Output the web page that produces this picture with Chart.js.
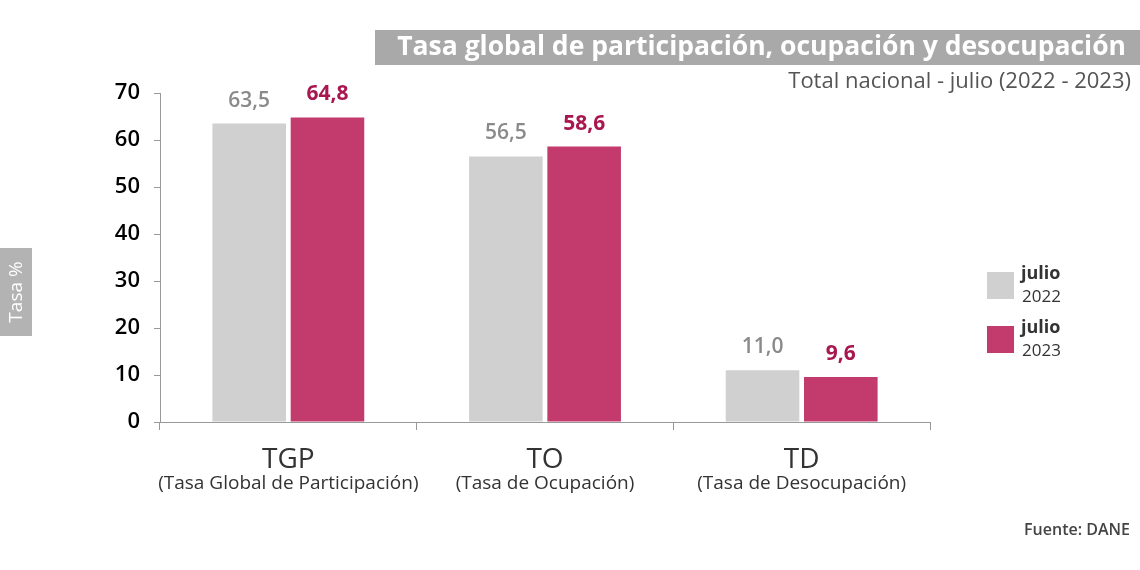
<!DOCTYPE html>
<html>
<head>
<meta charset="utf-8">
<script src="https://cdn.jsdelivr.net/npm/chart.js@4.4.0/dist/chart.umd.min.js"></script>
<style>
  body { margin: 0; background: #fff; }
  canvas { display: block; }
</style>
</head>
<body>
<canvas id="chart" width="1140" height="570"></canvas>
<script>
const categories = ['TGP', 'TO', 'TD'];
const categoryNotes = ['(Tasa Global de Participación)', '(Tasa de Ocupación)', '(Tasa de Desocupación)'];
const seriesNames = ['julio', 'julio'];
const seriesYears = ['2022', '2023'];
const values2022 = [63.5, 56.5, 11.0];
const values2023 = [64.8, 58.6, 9.6];

const FONT = '"Open Sans", "DejaVu Sans", sans-serif';
const GRAY = '#d0d0d0';
const MAGENTA = '#c23b6c';

const fmt = v => v.toFixed(1).replace('.', ',');

// banner title, subtitle, y title box, source
const decorPlugin = {
  id: 'decor',
  beforeDraw(chart) {
    const c = chart.ctx;
    c.save();
    c.fillStyle = '#a9a9a9';
    c.fillRect(375, 30, 765, 35);
    c.fillStyle = '#fff';
    c.font = 'bold 26.5px ' + FONT;
    c.textAlign = 'right';
    c.textBaseline = 'middle';
    c.fillText('Tasa global de participación, ocupación y desocupación', 1126, 47);
    c.fillStyle = '#555';
    c.font = '22px ' + FONT;
    c.fillText('Total nacional - julio (2022 - 2023)', 1131, 82);
    c.fillStyle = '#444';
    c.font = '600 16px ' + FONT;
    c.fillText('Fuente: DANE', 1130, 530);

    c.fillStyle = '#b3b3b3';
    c.fillRect(0, 248, 32, 88);
    c.translate(17, 292);
    c.rotate(-Math.PI / 2);
    c.textAlign = 'center';
    c.fillStyle = '#fff';
    c.font = '19px ' + FONT;
    c.fillText('Tasa %', 0, 0);
    c.restore();
  },
  afterDatasetsDraw(chart) {
    const c = chart.ctx;
    const x = chart.scales.x;
    c.save();
    c.textAlign = 'center';
    c.textBaseline = 'middle';
    // data labels
    chart.data.datasets.forEach((ds, i) => {
      const meta = chart.getDatasetMeta(i);
      meta.data.forEach((bar, j) => {
        c.fillStyle = i === 0 ? '#8a8a8a' : '#a8174f';
        c.font = (i === 0 ? '600 ' : 'bold ') + '21px ' + FONT;
        c.fillText(fmt(ds.data[j]), bar.x, bar.y - 23);
      });
    });
    // category labels
    categories.forEach((cat, j) => {
      const px = x.getPixelForValue(j);
      c.fillStyle = '#333';
      c.font = '28px ' + FONT;
      c.fillText(cat, px, 460);
      c.font = '19px ' + FONT;
      c.fillText(categoryNotes[j], px, 484);
    });
    // legend
    chart.data.datasets.forEach((ds, i) => {
      const top = 272 + i * 54;
      c.fillStyle = ds.backgroundColor;
      c.fillRect(987, top, 27, 27);
      c.textAlign = 'left';
      c.fillStyle = '#333';
      c.font = 'bold 18px ' + FONT;
      c.fillText(seriesNames[i], 1021, top + 2);
      c.font = '17px ' + FONT;
      c.fillText(seriesYears[i], 1022, top + 25);
    });
    c.restore();
  }
};

new Chart(document.getElementById('chart'), {
  type: 'bar',
  data: {
    labels: categories,
    datasets: [
      { label: 'julio 2022', data: values2022, backgroundColor: GRAY },
      { label: 'julio 2023', data: values2023, backgroundColor: MAGENTA }
    ]
  },
  options: {
    responsive: false,
    animation: false,
    layout: { padding: { top: 93, right: 210, left: 0, bottom: 0 } },
    datasets: { bar: { categoryPercentage: 0.61, barPercentage: 0.94 } },
    plugins: { legend: { display: false }, tooltip: { enabled: false } },
    scales: {
      x: {
        afterFit: s => { s.height = 148; },
        grid: { offset: true, drawOnChartArea: false, drawTicks: true, tickLength: 8, color: '#999' },
        border: { color: '#999' },
        ticks: { display: false }
      },
      y: {
        min: 0, max: 70,
        afterFit: s => { s.width = 160; },
        grid: { drawOnChartArea: false, drawTicks: true, tickLength: 6, color: '#999' },
        border: { color: '#999' },
        ticks: { stepSize: 10, padding: 14, color: '#000', font: { family: FONT, size: 22, weight: '600' } }
      }
    }
  },
  plugins: [decorPlugin]
});
</script>
</body>
</html>
